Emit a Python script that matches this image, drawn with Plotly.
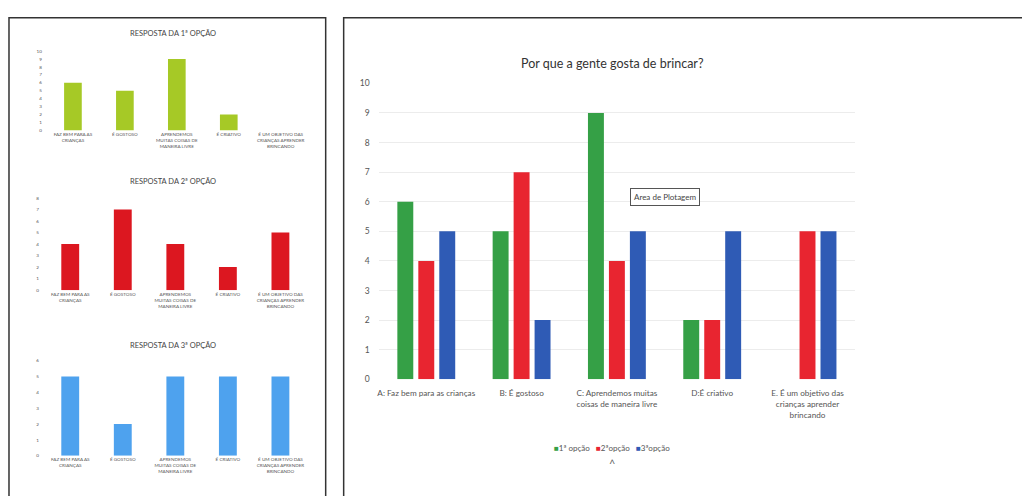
import plotly.graph_objects as go

W, H = 1022, 496

# ---- data ----
categories_main = [
    "A: Faz bem para as crianças",
    "B: É gostoso",
    "C: Aprendemos muitas<br>coisas de maneira livre",
    "D:É criativo",
    "E. É um objetivo das<br>crianças aprender<br>brincando",
]
categories_small = [
    "FAZ BEM PARA AS<br>CRIANÇAS",
    "É GOSTOSO",
    "APRENDEMOS<br>MUITAS COISAS DE<br>MANEIRA LIVRE",
    "É CRIATIVO",
    "É UM OBJETIVO DAS<br>CRIANÇAS APRENDER<br>BRINCANDO",
]
series_names = ["1ª opção", "2ªopção", "3ªopção"]
opcao1 = [6, 5, 9, 2, 0]
opcao2 = [4, 7, 4, 2, 5]
opcao3 = [5, 2, 5, 5, 5]
small_titles = ["RESPOSTA DA 1ª OPÇÃO", "RESPOSTA DA 2ª OPÇÃO", "RESPOSTA DA 3ª OPÇÃO"]
small_ymax = [10, 8, 6]
main_ymax = 10

main_colors = ["#35a046", "#e82530", "#2f5bb5"]
small_colors = ["#a6c926", "#dc1720", "#4ea2ee"]

FONT = "Lato"

def px_x(p):
    return p / W

def px_y(p):
    return 1 - p / H

fig = go.Figure()

# main grouped chart
for name, vals, col in zip(series_names, [opcao1, opcao2, opcao3], main_colors):
    fig.add_trace(go.Bar(x=categories_main, y=vals, name=name, marker_color=col,
                         marker_line_width=0, xaxis="x", yaxis="y", showlegend=False))

# small charts
small_axes = [("x2", "y2"), ("x3", "y3"), ("x4", "y4")]
for (xa, ya), vals, col in zip(small_axes, [opcao1, opcao2, opcao3], small_colors):
    fig.add_trace(go.Bar(x=categories_small, y=vals, marker_color=col, marker_line_width=0,
                         width=0.34, showlegend=False, xaxis=xa, yaxis=ya))

small_xdom = [[px_x(46), px_x(306)], [px_x(43), px_x(306)], [px_x(43), px_x(306)]]
small_ydom = [[px_y(128), px_y(47)], [px_y(291), px_y(197)], [px_y(460), px_y(363)]]
small_title_y = [29, 180, 348]

layout = dict(
    width=W, height=H,
    margin=dict(l=0, r=0, t=0, b=0),
    paper_bgcolor="white", plot_bgcolor="rgba(0,0,0,0)",
    barmode="group", bargap=0.34, bargroupgap=0.24,
    font=dict(family=FONT, color="#444"),
    xaxis=dict(domain=[px_x(378), px_x(855)], anchor="y", showline=False, ticks="",
               tickfont=dict(size=8.2, color="#555"), showgrid=False, ticklabelstandoff=8),
    yaxis=dict(domain=[px_y(382), px_y(80)], anchor="x", range=[0, main_ymax], dtick=1,
               showgrid=True, gridcolor="#ececec", gridwidth=1, zeroline=False,
               ticks="", tickfont=dict(size=8.5, color="#555"), ticklabelstandoff=8),
)
for i, (xa, ya) in enumerate(small_axes):
    xk = "xaxis" + xa[1:]
    yk = "yaxis" + ya[1:]
    layout[xk] = dict(domain=small_xdom[i], anchor=ya, showline=False, ticks="",
                      tickfont=dict(size=4.6, color="#555"), showgrid=False, tickangle=0)
    layout[yk] = dict(domain=small_ydom[i], anchor=xa, range=[0, small_ymax[i]], dtick=1,
                      showgrid=False, zeroline=False, ticks="",
                      tickfont=dict(size=4.6, color="#555"), ticklabelstandoff=4)

fig.update_layout(**layout)

legend_text = "&nbsp;&nbsp;&nbsp;".join(
    f"<span style='color:{c}'>■</span>{n}" for n, c in zip(series_names, main_colors)
)

annotations = [
    dict(text="Por que a gente gosta de brincar?", x=px_x(612), y=px_y(60), xref="paper", yref="paper",
         showarrow=False, font=dict(size=12.5, color="#333", family=FONT), xanchor="center", yanchor="middle"),
    dict(text="Area de Plotagem", x=px_x(665), y=px_y(196), xref="paper", yref="paper",
         showarrow=False, font=dict(size=8, color="#444", family=FONT), xanchor="center", yanchor="middle",
         bordercolor="#555", borderwidth=1, borderpad=3, bgcolor="white"),
    dict(text=legend_text, x=px_x(612), y=px_y(452), xref="paper", yref="paper",
         showarrow=False, font=dict(size=8, color="#555", family=FONT), xanchor="center", yanchor="middle"),
    dict(text="^", x=px_x(612), y=px_y(468), xref="paper", yref="paper",
         showarrow=False, font=dict(size=11, color="#666", family=FONT), xanchor="center", yanchor="middle"),
]
for t, ty in zip(small_titles, small_title_y):
    annotations.append(dict(text=t, x=px_x(172), y=px_y(ty), xref="paper", yref="paper",
                            showarrow=False, font=dict(size=7.5, color="#444", family=FONT),
                            xanchor="center", yanchor="middle"))
fig.update_layout(annotations=annotations)

shapes = [
    dict(type="rect", xref="paper", yref="paper", x0=px_x(8), x1=px_x(325), y0=px_y(520), y1=px_y(13),
         line=dict(color="#333", width=1.5), fillcolor="rgba(0,0,0,0)", layer="above"),
    dict(type="rect", xref="paper", yref="paper", x0=px_x(343), x1=px_x(1040), y0=px_y(520), y1=px_y(13),
         line=dict(color="#333", width=1.5), fillcolor="rgba(0,0,0,0)", layer="above"),
]
fig.update_layout(shapes=shapes)

fig.write_html("out.html")
